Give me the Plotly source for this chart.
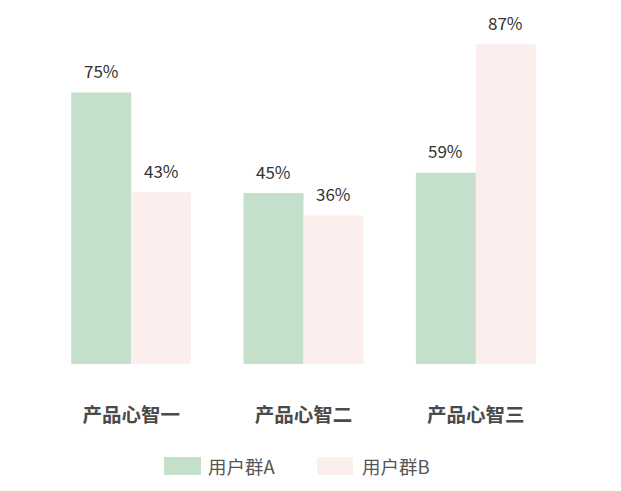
import plotly.graph_objects as go

# categories and series
categories = ["产品心智一", "产品心智二", "产品心智三"]
series_names = ["用户群A", "用户群B"]
# bar heights as drawn in the picture (label text kept separately)
values_a = [75, 47.2, 52.8]
values_b = [47.4, 41.0, 88.3]
labels_a = ["75%", "45%", "59%"]
labels_b = ["43%", "36%", "87%"]

green = "#c4e0cb"
pink = "#fdeeee"
font_family = "Noto Sans CJK SC"

W, H = 621, 491
off = 8  # page body margin
ml, mr, mt, mb = 45 - off, 59 + off, 10 - off, 127 + off
plot_w = W - ml - mr
plot_h = H - mt - mb
y_top = plot_h / (271.6 / 75)


def px_x(px):
    return (px - off - ml) / plot_w


def px_y(py):
    return (H - mb - (py - off)) / plot_h


fig = go.Figure()
fig.add_trace(go.Bar(x=categories, y=values_a, name=series_names[0],
                     marker=dict(color=green, line=dict(width=0)), showlegend=False))
fig.add_trace(go.Bar(x=categories, y=values_b, name=series_names[1],
                     marker=dict(color=pink, line=dict(width=0)), showlegend=False))

annotations = []
for cat, v, t in zip(categories, values_a, labels_a):
    annotations.append(dict(x=cat, y=v, text=t, xshift=-30, yshift=22, showarrow=False,
                            xanchor="center", yanchor="middle",
                            font=dict(size=17, color="#333333", family=font_family)))
for cat, v, t in zip(categories, values_b, labels_b):
    annotations.append(dict(x=cat, y=v, text=t, xshift=30, yshift=22, showarrow=False,
                            xanchor="center", yanchor="middle",
                            font=dict(size=17, color="#333333", family=font_family)))

# custom legend with wide swatches
shapes = []
legend_items = [(series_names[0], green, 164, 201, 206), (series_names[1], pink, 317, 353, 360)]
for name, color, x0, x1, tx in legend_items:
    shapes.append(dict(type="rect", xref="paper", yref="paper",
                       x0=px_x(x0), x1=px_x(x1), y0=px_y(475), y1=px_y(457),
                       fillcolor=color, line=dict(width=0)))
    annotations.append(dict(xref="paper", yref="paper", x=px_x(tx), y=px_y(466), text=name,
                            showarrow=False, xanchor="left", yanchor="middle",
                            font=dict(size=18.5, color="#555555", family=font_family)))

fig.update_layout(
    width=W, height=H,
    margin=dict(l=ml, r=mr, t=mt, b=mb),
    barmode="group", bargap=0.304, bargroupgap=0,
    plot_bgcolor="white", paper_bgcolor="white",
    font=dict(family=font_family),
    annotations=annotations, shapes=shapes,
    showlegend=False,
)
fig.update_xaxes(showgrid=False, showline=False, zeroline=False, ticks="",
                 ticklabelstandoff=37,
                 tickfont=dict(size=19.5, color="#4a4a4a", family=font_family, weight="bold"))
fig.update_yaxes(range=[0, y_top], visible=False, showgrid=False, zeroline=False)

fig.write_html("out.html")
